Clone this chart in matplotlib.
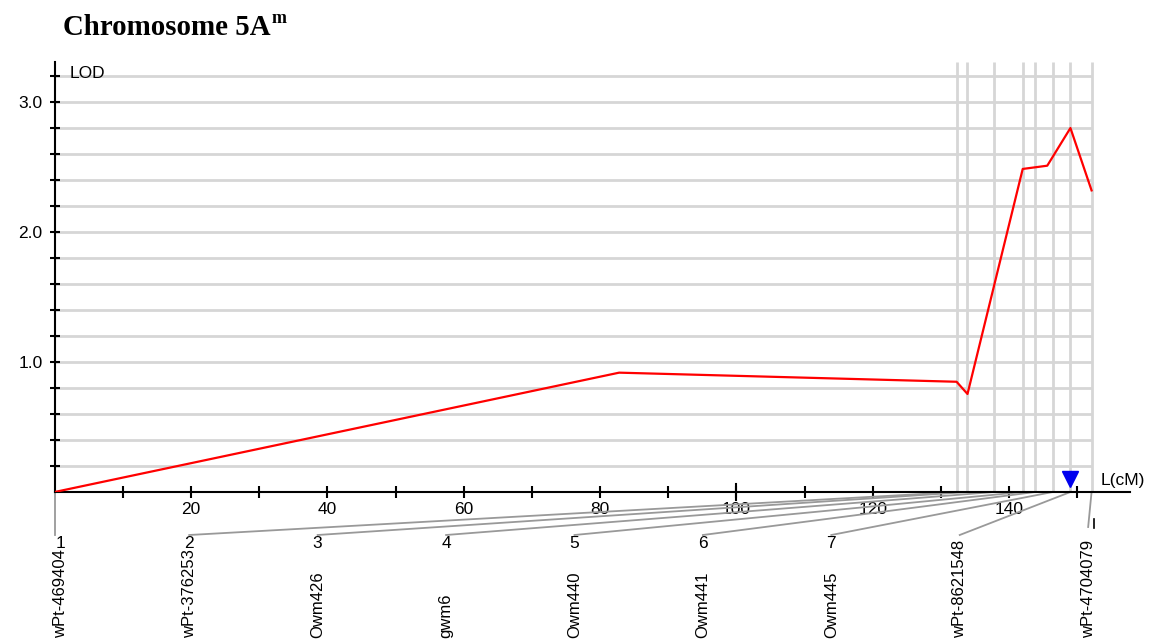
import numpy as np
import matplotlib
matplotlib.use('Agg')
import matplotlib.pyplot as plt

plt.rcParams['font.family'] = ['Liberation Sans', 'DejaVu Sans']

# LOD profile along the chromosome (cM, LOD)
pos_cm = [0, 82.8, 132.3, 133.9, 142.0, 145.6, 149.0, 152.1]
lod = [0, 0.918, 0.848, 0.754, 2.485, 2.51, 2.80, 2.32]

# markers on the linkage map
marker_ids = ['1', '2', '3', '4', '5', '6', '7', '8', '9']
marker_names = ['wPt-469404', 'wPt-376253', 'Owm426', 'gwm6', 'Owm440',
                'Owm441', 'Owm445', 'wPt-862154', 'wPt-470407']
marker_cm = [0, 132.4, 133.9, 137.8, 142.0, 143.8, 146.4, 149.0, 152.1]

# peak position
peak_cm = 149.0

W, H = 1150, 640
fig = plt.figure(figsize=(W / 100, H / 100), dpi=100)

# axes placed in pixel terms: x=0 at px 54.7, 6.817 px per cM; y=0 at px 492, 130 px per LOD
x0, px_cm = 54.7, 6.817
y0, px_lod = 492, 130.0
xmax = (1130 - x0) / px_cm
ymax = (y0 - 62) / px_lod
ax = fig.add_axes([x0 / W, (H - y0) / H, (1130 - x0) / W, (y0 - 62) / H])
ax.set_xlim(0, xmax)
ax.set_ylim(0, ymax)

for s in ['top', 'right']:
    ax.spines[s].set_visible(False)
for s in ['left', 'bottom']:
    ax.spines[s].set_linewidth(1.5)
    ax.spines[s].set_color('black')

grid_c = '#d6d6d6'
# horizontal grid every 0.2 LOD, out to the last marker
ax.hlines(np.arange(0.2, 3.3, 0.2), 0, marker_cm[-1], colors=grid_c, lw=2, zorder=1)
# vertical grid at the marker positions
ax.vlines(marker_cm[1:], 0, ymax, colors=grid_c, lw=2, zorder=1)

# ticks
ax.set_yticks([1.0, 2.0, 3.0])
ax.set_yticklabels(['1.0', '2.0', '3.0'], fontsize=12.5)
ax.set_yticks(np.arange(0.2, 3.3, 0.2), minor=True)
xt = list(range(10, 151, 10))
ax.set_xticks(xt)
ax.set_xticklabels([str(t) if t % 20 == 0 else '' for t in xt], fontsize=12.5)
ax.tick_params(axis='x', direction='inout', length=8.5, width=1.5, pad=3)
ax.tick_params(axis='y', which='both', direction='inout', length=7.5, width=1.5, pad=5)
ax.tick_params(axis='y', which='minor', labelleft=False)
ax.plot([100, 100], [-0.065, 0.065], color='black', lw=1.5, clip_on=False, zorder=3)

# LOD curve and peak marker
ax.plot(pos_cm, lod, color='#ff0000', lw=1.6, zorder=4)
ax.plot([peak_cm], [0.1], marker='v', color='#0000ee', markersize=11, ls='none',
        clip_on=False, zorder=5)

ax.text(2.2, 3.22, 'LOD', fontsize=12.5, ha='left', va='center')
ax.text(153.5, 0.09, 'L(cM)', fontsize=12.5, ha='left', va='center')

# marker labels spread evenly below the axis, joined to map positions
lab_x = np.linspace(0.9, 151.6, len(marker_cm))
y_lead = -(535 - y0) / px_lod
lead_c = '#999999'
for i, (mid, name, mx, lx) in enumerate(zip(marker_ids, marker_names, marker_cm, lab_x)):
    if i == 0:
        ax.plot([mx, mx], [0, y_lead], color=lead_c, lw=1.3, clip_on=False, zorder=2)
    else:
        ly = y_lead if i < 8 else -(527 - y0) / px_lod
        ax.plot([mx, lx], [0, ly], color=lead_c, lw=1.3, clip_on=False, zorder=2)
    fx = (x0 + lx * px_cm) / W
    if i < 7:
        fig.text(fx, (H - 543) / H, mid, fontsize=12.5, ha='center', va='center')
        fig.text(fx, 1.5 / H, name, fontsize=12, rotation=90, ha='center', va='bottom')
    else:
        fig.text(fx, 1.5 / H, name + mid, fontsize=12, rotation=90, ha='center', va='bottom')
ax.plot([152.4, 152.4], [-(519 - y0) / px_lod, -(528 - y0) / px_lod], color='black',
        lw=1.2, clip_on=False)

# title with superscript
t = fig.text(63 / W, (H - 35) / H, 'Chromosome 5A', fontsize=20.8, fontweight='bold',
             family=['Liberation Serif', 'DejaVu Serif'], ha='left', va='baseline')
fig.canvas.draw()
bb = t.get_window_extent(renderer=fig.canvas.get_renderer())
fig.text((bb.x1 + 1) / W, (H - 23) / H, 'm', fontsize=13, fontweight='bold',
         family=['Liberation Serif', 'DejaVu Serif'], ha='left', va='baseline')

fig.savefig('out.png', dpi=100)
